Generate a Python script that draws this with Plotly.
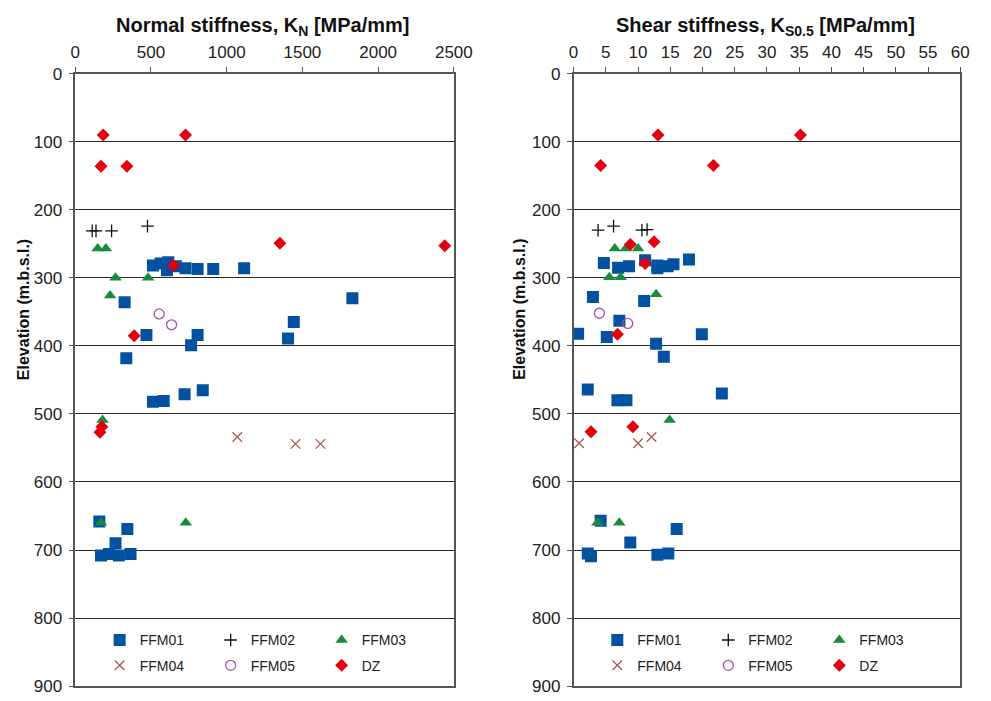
import plotly.graph_objects as go

# ---------------- data ----------------
series_names = ["FFM01", "FFM02", "FFM03", "FFM04", "FFM05", "DZ"]

ffm01_kn = [513, 563, 614, 606, 664, 728, 808, 911, 1115, 326, 1830, 1443, 1405, 470,
            808, 765, 337, 513, 584, 722, 842, 159, 344, 266, 170, 223, 288, 365]
ffm01_kn_elev = [282, 279, 277, 289, 283, 286, 287, 287, 286, 336, 330, 365, 389, 384,
                 384, 399, 418, 482, 481, 471, 465, 658, 669, 690, 708, 706, 708, 706]
ffm02_kn = [112, 137, 240, 477]
ffm02_kn_elev = [231, 231, 231, 224]
ffm03_kn = [148, 202, 266, 481, 230, 180, 170, 730]
ffm03_kn_elev = [257, 257, 300, 300, 326, 509, 660, 660]
ffm04_kn = [1070, 1454, 1619]
ffm04_kn_elev = [534, 544, 544]
ffm05_kn = [554, 636]
ffm05_kn_elev = [353, 369]
dz_kn = [185, 728, 170, 341, 649, 1351, 2440, 389, 176, 163]
dz_kn_elev = [90, 90, 136, 136, 282, 249, 253, 385, 519, 527]

ffm01_ks = [4.7, 6.9, 8.6, 11.1, 13.0, 13.0, 14.6, 15.5, 17.9, 3.0, 10.95, 7.1, 0.7, 5.15,
            19.9, 12.8, 14.0, 2.2, 6.8, 8.2, 23.0, 4.2, 16.0, 8.8, 2.2, 2.7, 13.0, 14.7]
ffm01_ks_elev = [278, 285, 283, 274, 282, 286, 283, 280, 273, 328, 334, 363, 382, 387,
                 383, 397, 416, 464, 480, 480, 470, 657, 669, 689, 705, 709, 707, 705]
ffm02_ks = [3.8, 6.2, 10.6, 11.4]
ffm02_ks_elev = [230, 224, 230, 229]
ffm03_ks = [6.4, 8.1, 10.0, 5.55, 7.3, 12.8, 14.9, 3.7, 7.1]
ffm03_ks_elev = [257, 257, 257, 299, 299, 324, 509, 660, 660]
ffm04_ks = [12.1, 0.86, 10.0]
ffm04_ks_elev = [534, 543, 543]
ffm05_ks = [4.0, 8.4]
ffm05_ks_elev = [352, 367]
dz_ks = [13.1, 35.2, 4.2, 21.7, 11.1, 8.8, 12.5, 6.8, 9.2, 2.7]
dz_ks_elev = [90, 90, 135, 135, 279, 251, 247, 383, 519, 526]

kn_ticks = [0, 500, 1000, 1500, 2000, 2500]
ks_ticks = list(range(0, 61, 5))
elev_ticks = list(range(0, 901, 100))

styles = {
    "FFM01": dict(symbol="square", size=12, color="#0352A2", line=dict(width=0)),
    "FFM02": dict(symbol="cross-thin-open", size=9, color="#111111", line=dict(width=1.3, color="#111111")),
    "FFM03": dict(symbol="triangle-up", size=11, color="#1B8A3B", line=dict(width=0)),
    "FFM04": dict(symbol="x-thin-open", size=9.5, color="#A8584E", line=dict(width=1.3, color="#A8584E")),
    "FFM05": dict(symbol="circle-open", size=10, color="#A24FB0", line=dict(width=1.3, color="#A24FB0")),
    "DZ": dict(symbol="diamond", size=10, color="#E5000F", line=dict(width=0)),
}

left = {
    "FFM01": (ffm01_kn, ffm01_kn_elev), "FFM02": (ffm02_kn, ffm02_kn_elev),
    "FFM03": (ffm03_kn, ffm03_kn_elev), "FFM04": (ffm04_kn, ffm04_kn_elev),
    "FFM05": (ffm05_kn, ffm05_kn_elev), "DZ": (dz_kn, dz_kn_elev),
}
right = {
    "FFM01": (ffm01_ks, ffm01_ks_elev), "FFM02": (ffm02_ks, ffm02_ks_elev),
    "FFM03": (ffm03_ks, ffm03_ks_elev), "FFM04": (ffm04_ks, ffm04_ks_elev),
    "FFM05": (ffm05_ks, ffm05_ks_elev), "DZ": (dz_ks, dz_ks_elev),
}

fig = go.Figure()
for i, name in enumerate(series_names):
    x, y = left[name]
    fig.add_trace(go.Scatter(x=x, y=y, mode="markers", name=name, marker=styles[name],
                             xaxis="x", yaxis="y",
                             legend="legend" if i < 3 else "legend2"))
for i, name in enumerate(series_names):
    x, y = right[name]
    fig.add_trace(go.Scatter(x=x, y=y, mode="markers", name=name, marker=styles[name],
                             xaxis="x2", yaxis="y2",
                             legend="legend3" if i < 3 else "legend4"))

W, H = 991, 701
FONT = "Liberation Sans, Arial, sans-serif"
AX = "#555555"


def px(v):
    return v / W


def py(v):
    return 1 - v / H


ydom = [py(696), py(66.5)]
common_x = dict(side="top", showline=True, mirror=True, linecolor=AX, linewidth=1.5,
                ticks="outside", ticklen=5, tickcolor=AX, tickwidth=1.2,
                showgrid=False, zeroline=False, ticklabelstandoff=2,
                ticklabeloverflow="allow",
                tickfont=dict(family=FONT, size=17, color="#222222"))
common_y = dict(autorange=False, range=[900, 0], tickvals=elev_ticks,
                showline=True, mirror=True, linecolor=AX, linewidth=1.5,
                ticks="outside", ticklen=5, tickcolor=AX, tickwidth=1.2,
                showgrid=True, gridcolor="#2a2a2a", gridwidth=1.2, zeroline=False,
                domain=ydom, ticklabelstandoff=3, ticklabeloverflow="allow",
                tickfont=dict(family=FONT, size=17, color="#222222"))

leg = dict(orientation="h", xanchor="left", yanchor="middle", entrywidth=66,
           bgcolor="rgba(0,0,0,0)", borderwidth=0,
           font=dict(family=FONT, size=14, color="#222222"))

fig.update_layout(
    width=W, height=H,
    margin=dict(l=0, r=0, t=0, b=0),
    paper_bgcolor="white", plot_bgcolor="white",
    showlegend=True,
    xaxis=dict(common_x, domain=[px(72), px(460)], range=[0, 2500], tickvals=kn_ticks, anchor="y"),
    yaxis=dict(common_y, anchor="x"),
    xaxis2=dict(common_x, domain=[px(582.7), px(979)], range=[0, 60], tickvals=ks_ticks, anchor="y2"),
    yaxis2=dict(common_y, anchor="x2"),
    legend=dict(leg, x=px(97), y=py(649)),
    legend2=dict(leg, x=px(97), y=py(675)),
    legend3=dict(leg, x=px(607), y=py(649)),
    legend4=dict(leg, x=px(607), y=py(675)),
    annotations=[
        dict(text="<b>Normal stiffness, K<sub>N</sub> [MPa/mm]</b>", x=px(264), y=py(18),
             xref="paper", yref="paper", showarrow=False, xanchor="center", yanchor="middle",
             font=dict(family=FONT, size=20, color="#111111")),
        dict(text="<b>Shear stiffness, K<sub>S0.5</sub> [MPa/mm]</b>", x=px(779), y=py(18),
             xref="paper", yref="paper", showarrow=False, xanchor="center", yanchor="middle",
             font=dict(family=FONT, size=20, color="#111111")),
        dict(text="<b>Elevation (m.b.s.l.)</b>", x=px(19), y=py(309), textangle=-90,
             xref="paper", yref="paper", showarrow=False, xanchor="center", yanchor="middle",
             font=dict(family=FONT, size=16, color="#111111")),
        dict(text="<b>Elevation (m.b.s.l.)</b>", x=px(527), y=py(309), textangle=-90,
             xref="paper", yref="paper", showarrow=False, xanchor="center", yanchor="middle",
             font=dict(family=FONT, size=16, color="#111111")),
    ],
)

fig.write_html("out.html", config={"displayModeBar": False},
               post_script="document.body.style.margin='0';")
